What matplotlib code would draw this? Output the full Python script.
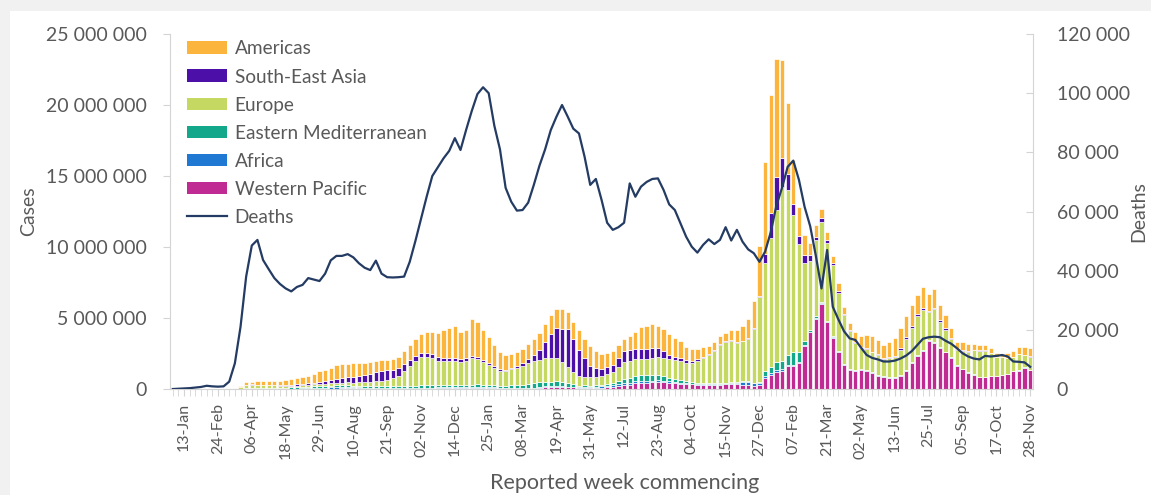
import numpy as np
import pandas as pd
import matplotlib
matplotlib.use("Agg")
import matplotlib.pyplot as plt
from matplotlib.ticker import FuncFormatter
from matplotlib.patches import Patch, Rectangle
from matplotlib.lines import Line2D

plt.rcParams['font.family'] = ['Lato', 'DejaVu Sans']

# weekly categories, 30-Dec-2019 .. 28-Nov-2022
weeks = pd.date_range("2019-12-30", periods=153, freq="7D")
week_labels = [d.strftime("%d-%b") for d in weeks]

# weekly cases per WHO region, in millions
americas = [
    0, 0, 0, 0, 0, 0, 0, 0, 0.001, 0.001,
    0.004, 0.02, 0.05, 0.18, 0.2, 0.22, 0.23, 0.24, 0.26, 0.30,
    0.34, 0.38, 0.42, 0.48, 0.55, 0.65, 0.75, 0.83, 0.9, 0.95,
    0.97, 0.95, 0.92, 0.88, 0.83, 0.8, 0.78, 0.75, 0.72, 0.73,
    0.78, 0.95, 1.05, 1.15, 1.3, 1.48, 1.6, 1.75, 1.95, 2.15,
    2.3, 1.95, 2.0, 2.55, 2.45, 2.1, 1.85, 1.5, 1.22, 1.05,
    1.0, 1.0, 1.05, 1.1, 1.15, 1.2, 1.3, 1.3, 1.34, 1.4,
    1.2, 1.2, 1.4, 1.35, 1.4, 1.2, 1.05, 1.0, 0.95, 0.9,
    0.9, 0.95, 1.2, 1.55, 1.6, 1.65, 1.6, 1.6, 1.45, 1.3,
    1.2, 0.95, 0.8, 0.7, 0.65, 0.6, 0.55, 0.55, 0.6, 0.75,
    0.85, 1.05, 1.35, 1.9, 3.5, 6.46, 8.33, 8.33, 6.9, 4.95,
    3.12, 2.0, 1.4, 0.82, 0.82, 0.7, 0.6, 0.54, 0.6, 0.55,
    0.55, 0.7, 0.75, 0.95, 1.1, 1.0, 0.9, 1.05, 1.25, 1.45,
    1.5, 1.5, 1.4, 1.5, 1.2, 1.35, 1.05, 0.95, 0.75, 0.5,
    0.55, 0.5, 0.4, 0.35, 0.4, 0.3, 0.25, 0.25, 0.35, 0.4,
    0.47, 0.55, 0.6,
]
south_east_asia = [
    0, 0, 0, 0, 0, 0, 0, 0, 0, 0,
    0, 0.001, 0.003, 0.006, 0.01, 0.015, 0.02, 0.025, 0.03, 0.04,
    0.05, 0.06, 0.075, 0.09, 0.1, 0.12, 0.15, 0.18, 0.22, 0.28,
    0.33, 0.38, 0.43, 0.48, 0.53, 0.58, 0.65, 0.68, 0.65, 0.6,
    0.52, 0.48, 0.42, 0.36, 0.32, 0.3, 0.28, 0.27, 0.25, 0.24,
    0.22, 0.2, 0.18, 0.17, 0.17, 0.15, 0.14, 0.13, 0.12, 0.11,
    0.12, 0.14, 0.18, 0.28, 0.45, 0.7, 1.1, 1.7, 2.1, 2.3,
    2.65, 2.35, 1.85, 1.3, 0.8, 0.6, 0.48, 0.5, 0.5, 0.65,
    0.75, 0.75, 0.72, 0.75, 0.75, 0.7, 0.62, 0.5, 0.32, 0.25,
    0.2, 0.17, 0.15, 0.12, 0.1, 0.09, 0.08, 0.07, 0.07, 0.06,
    0.06, 0.05, 0.05, 0.05, 0.07, 0.63, 1.76, 2.3, 2.1, 1.17,
    0.82, 0.6, 0.55, 0.47, 0.23, 0.23, 0.19, 0.16, 0.1, 0.08,
    0.06, 0.05, 0.05, 0.05, 0.05, 0.06, 0.06, 0.07, 0.08, 0.1,
    0.12, 0.13, 0.13, 0.14, 0.12, 0.12, 0.1, 0.09, 0.08, 0.07,
    0.06, 0.05, 0.05, 0.04, 0.04, 0.04, 0.03, 0.03, 0.03, 0.03,
    0.03, 0.03, 0.03,
]
europe = [
    0, 0, 0, 0, 0, 0, 0, 0, 0.001, 0.01,
    0.04, 0.06, 0.14, 0.26, 0.26, 0.24, 0.21, 0.19, 0.17, 0.15,
    0.14, 0.13, 0.12, 0.12, 0.13, 0.13, 0.14, 0.14, 0.15, 0.16,
    0.17, 0.19, 0.21, 0.24, 0.27, 0.3, 0.35, 0.4, 0.45, 0.55,
    0.72, 1.05, 1.38, 1.75, 2.0, 2.02, 1.9, 1.67, 1.66, 1.64,
    1.65, 1.6, 1.68, 1.88, 1.8, 1.6, 1.43, 1.22, 1.05, 1.0,
    1.1, 1.2, 1.32, 1.45, 1.55, 1.6, 1.7, 1.68, 1.64, 1.4,
    1.1, 0.85, 0.66, 0.6, 0.6, 0.6, 0.6, 0.67, 0.75, 1.0,
    1.2, 1.25, 1.2, 1.1, 1.13, 1.2, 1.25, 1.25, 1.27, 1.3,
    1.35, 1.3, 1.35, 1.55, 1.75, 1.95, 2.25, 2.7, 2.85, 2.9,
    2.75, 2.8, 2.95, 3.8, 5.95, 7.58, 9.04, 10.7, 12.2, 11.6,
    9.6, 7.6, 5.55, 4.8, 5.4, 5.65, 5.5, 5.0, 4.1, 3.4,
    2.65, 1.9, 1.5, 1.45, 1.35, 1.4, 1.25, 1.35, 1.4, 1.75,
    2.15, 2.45, 2.75, 2.85, 1.95, 2.3, 1.8, 1.55, 1.25, 1.05,
    1.25, 1.45, 1.7, 1.85, 1.8, 1.6, 1.3, 1.2, 1.1, 0.95,
    1.15, 0.85, 0.9,
]
eastern_med = [
    0, 0, 0, 0, 0, 0, 0, 0, 0.001, 0.008,
    0.008, 0.01, 0.02, 0.03, 0.04, 0.045, 0.05, 0.06, 0.06, 0.06,
    0.07, 0.08, 0.09, 0.1, 0.11, 0.12, 0.12, 0.12, 0.12, 0.12,
    0.12, 0.12, 0.11, 0.11, 0.11, 0.11, 0.12, 0.13, 0.14, 0.15,
    0.16, 0.16, 0.17, 0.18, 0.19, 0.18, 0.17, 0.17, 0.17, 0.16,
    0.15, 0.14, 0.14, 0.14, 0.15, 0.15, 0.15, 0.14, 0.15, 0.16,
    0.2, 0.22, 0.24, 0.28, 0.3, 0.32, 0.32, 0.33, 0.34, 0.32,
    0.28, 0.2, 0.1, 0.1, 0.1, 0.1, 0.11, 0.14, 0.17, 0.22,
    0.28, 0.3, 0.36, 0.45, 0.42, 0.42, 0.38, 0.33, 0.28, 0.24,
    0.2, 0.16, 0.13, 0.11, 0.1, 0.09, 0.08, 0.08, 0.08, 0.08,
    0.07, 0.06, 0.06, 0.05, 0.08, 0.35, 0.42, 0.6, 0.6, 0.72,
    0.95, 0.7, 0.25, 0.15, 0.12, 0.1, 0.07, 0.07, 0.06, 0.05,
    0.04, 0.03, 0.03, 0.03, 0.03, 0.03, 0.03, 0.03, 0.03, 0.03,
    0.03, 0.04, 0.04, 0.04, 0.03, 0.03, 0.03, 0.02, 0.02, 0.02,
    0.02, 0.02, 0.02, 0.02, 0.02, 0.01, 0.01, 0.01, 0.01, 0.01,
    0.01, 0.01, 0.01,
]
africa = [
    0, 0, 0, 0, 0, 0, 0, 0, 0, 0,
    0, 0.001, 0.002, 0.004, 0.005, 0.007, 0.01, 0.01, 0.012, 0.015,
    0.02, 0.025, 0.03, 0.04, 0.05, 0.06, 0.07, 0.08, 0.1, 0.12,
    0.12, 0.1, 0.08, 0.07, 0.06, 0.05, 0.05, 0.04, 0.04, 0.03,
    0.04, 0.03, 0.03, 0.03, 0.03, 0.03, 0.04, 0.05, 0.06, 0.06,
    0.06, 0.07, 0.08, 0.09, 0.09, 0.08, 0.06, 0.05, 0.04, 0.03,
    0.03, 0.03, 0.03, 0.04, 0.04, 0.04, 0.04, 0.04, 0.04, 0.04,
    0.04, 0.04, 0.04, 0.05, 0.06, 0.08, 0.1, 0.12, 0.14, 0.15,
    0.16, 0.14, 0.12, 0.12, 0.1, 0.1, 0.09, 0.08, 0.08, 0.07,
    0.06, 0.05, 0.04, 0.03, 0.03, 0.03, 0.03, 0.03, 0.04, 0.06,
    0.12, 0.2, 0.25, 0.2, 0.19, 0.2, 0.15, 0.12, 0.1, 0.08,
    0.07, 0.06, 0.05, 0.04, 0.04, 0.03, 0.03, 0.03, 0.03, 0.03,
    0.03, 0.03, 0.03, 0.04, 0.05, 0.05, 0.04, 0.03, 0.03, 0.03,
    0.03, 0.03, 0.03, 0.03, 0.02, 0.02, 0.02, 0.02, 0.02, 0.01,
    0.01, 0.01, 0.01, 0.01, 0.01, 0.01, 0.01, 0.01, 0.01, 0.01,
    0.01, 0.01, 0.01,
]
western_pacific = [
    0, 0, 0, 0.002, 0.012, 0.025, 0.03, 0.01, 0.005, 0.005,
    0.004, 0.006, 0.01, 0.01, 0.01, 0.01, 0.01, 0.008, 0.008, 0.006,
    0.006, 0.006, 0.006, 0.006, 0.008, 0.01, 0.01, 0.015, 0.02, 0.03,
    0.04, 0.05, 0.05, 0.04, 0.04, 0.04, 0.03, 0.03, 0.03, 0.03,
    0.03, 0.03, 0.03, 0.03, 0.03, 0.04, 0.05, 0.06, 0.07, 0.08,
    0.08, 0.08, 0.08, 0.08, 0.08, 0.07, 0.06, 0.06, 0.05, 0.05,
    0.05, 0.04, 0.03, 0.05, 0.06, 0.1, 0.14, 0.15, 0.16, 0.16,
    0.13, 0.11, 0.1, 0.1, 0.08, 0.08, 0.1, 0.12, 0.14, 0.18,
    0.26, 0.31, 0.42, 0.42, 0.45, 0.48, 0.52, 0.5, 0.45, 0.42,
    0.38, 0.35, 0.33, 0.3, 0.3, 0.3, 0.3, 0.3, 0.33, 0.34,
    0.33, 0.3, 0.25, 0.2, 0.25, 0.75, 1.0, 1.2, 1.3, 1.6,
    1.6, 1.85, 3.05, 4.0, 4.95, 6.0, 4.7, 3.6, 2.6, 1.7,
    1.35, 1.3, 1.35, 1.3, 1.15, 0.92, 0.82, 0.77, 0.8, 0.95,
    1.3, 1.8, 2.3, 2.65, 3.4, 3.25, 2.9, 2.6, 2.2, 1.65,
    1.4, 1.15, 1.0, 0.82, 0.85, 0.9, 0.92, 1.0, 1.05, 1.25,
    1.3, 1.5, 1.35,
]

# weekly deaths (all regions)
deaths = [
    0, 100, 200, 300, 500, 700, 1100, 900, 800, 900,
    2500, 8700, 21000, 38000, 48500, 50400, 43600, 40500, 37500, 35500,
    34000, 33000, 34500, 35200, 37500, 37000, 36500, 39000, 43500, 45000,
    45000, 45600, 44500, 42500, 41000, 40200, 43400, 39000, 37800, 37700,
    37800, 38000, 43000, 50000, 57500, 65000, 72000, 75000, 78000, 80500,
    84800, 80800, 87600, 94000, 99700, 102000, 100000, 89000, 81000, 68000,
    63300, 60300, 60500, 63000, 69000, 75500, 81000, 87500, 92000, 96000,
    92100, 88000, 86400, 78500, 69000, 71000, 64000, 56200, 53800, 54700,
    56200, 69500, 65000, 68400, 70000, 71000, 71200, 67300, 62400, 60500,
    56000, 51500, 48100, 46100, 48700, 50600, 49000, 50400, 54700, 50200,
    53800, 49800, 47200, 45900, 43000, 46400, 53000, 62000, 68000, 75100,
    77200, 70700, 61600, 55000, 45000, 34000, 47000, 27800, 23500, 19500,
    17100, 16600, 14000, 11500, 10500, 10000, 9300, 9300, 9600, 10300,
    11300, 12800, 14900, 17000, 17500, 17700, 17500, 16300, 15300, 13800,
    12100, 11000, 10300, 10000, 11200, 11000, 11200, 11500, 11000, 9300,
    9200, 9000, 7500,
]

regions = ["Western Pacific", "Africa", "Eastern Mediterranean", "Europe",
           "South-East Asia", "Americas"]
series = [western_pacific, africa, eastern_med, europe, south_east_asia, americas]
colors = ["#c02a93", "#1f78d1", "#14a88a", "#c5d862", "#4c0fa8", "#fbb53c"]
line_color = "#243b63"
text_color = "#595959"
axis_color = "#d4d4d4"

fig = plt.figure(figsize=(11.51, 4.95), dpi=100)
fig.patch.set_facecolor("#f1f1f1")
fig.add_artist(Rectangle((0.009, 0), 0.991, 0.977, transform=fig.transFigure,
                         facecolor="white", edgecolor="none", zorder=-5))
ax = fig.add_axes([0.1477, 0.2141, 0.7498, 0.7172])
ax.set_facecolor("none")

x = np.arange(len(weeks))
bottom = np.zeros(len(weeks))
for name, vals, c in zip(regions, series, colors):
    v = np.array(vals) * 1e6
    ax.bar(x, v, bottom=bottom, width=0.76, color=c, edgecolor="white",
           linewidth=0.5, label=name)
    bottom += v

ax.set_xlim(-0.5, len(weeks) - 0.5)
ax.set_ylim(0, 25e6)
ax.set_yticks(np.arange(0, 25e6 + 1, 5e6))
fmt = FuncFormatter(lambda v, p: f"{int(round(v)):,}".replace(",", " "))
ax.yaxis.set_major_formatter(fmt)

major = list(range(2, len(weeks), 6))
ax.set_xticks(major)
ax.set_xticklabels([week_labels[i] for i in major], rotation=90)
ax.set_xticks(x, minor=True)

for s in ["top", "right"]:
    ax.spines[s].set_visible(False)
for s in ["left", "bottom"]:
    ax.spines[s].set_color(axis_color)
ax.tick_params(axis="y", direction="out", length=5, color=axis_color,
               labelcolor=text_color, labelsize=14, pad=12)
ax.tick_params(axis="x", which="both", direction="out", length=5,
               color=axis_color, labelcolor=text_color, labelsize=11.5, pad=5)
ax.set_ylabel("Cases", fontsize=14, color=text_color, labelpad=6)

ax2 = ax.twinx()
ax2.plot(x, deaths, color=line_color, linewidth=1.6, label="Deaths")
ax2.set_ylim(0, 120000)
ax2.set_yticks(np.arange(0, 120001, 20000))
ax2.yaxis.set_major_formatter(fmt)
for s in ["top", "left", "bottom"]:
    ax2.spines[s].set_visible(False)
ax2.spines["right"].set_color(axis_color)
ax2.tick_params(axis="y", direction="in", length=5, color=axis_color,
                labelcolor=text_color, labelsize=14, pad=17)
ax2.set_ylabel("Deaths", fontsize=14, color=text_color, labelpad=0)

handles = [Patch(facecolor=c, edgecolor="none") for c in colors[::-1]]
handles.append(Line2D([0], [0], color=line_color, linewidth=1.6))
labels = regions[::-1] + ["Deaths"]
leg = ax.legend(handles, labels, loc="upper left", bbox_to_anchor=(0.0, 1.03),
                frameon=False, fontsize=13.7, labelcolor=text_color,
                handlelength=2.1, handleheight=0.65, handletextpad=0.4,
                labelspacing=0.58)
leg.set_zorder(10)

fig.text(625 / 1151, 1 - 483 / 495, "Reported week commencing", ha="center",
         va="center", fontsize=15.5, color=text_color)

fig.savefig("out.png", dpi=100)
